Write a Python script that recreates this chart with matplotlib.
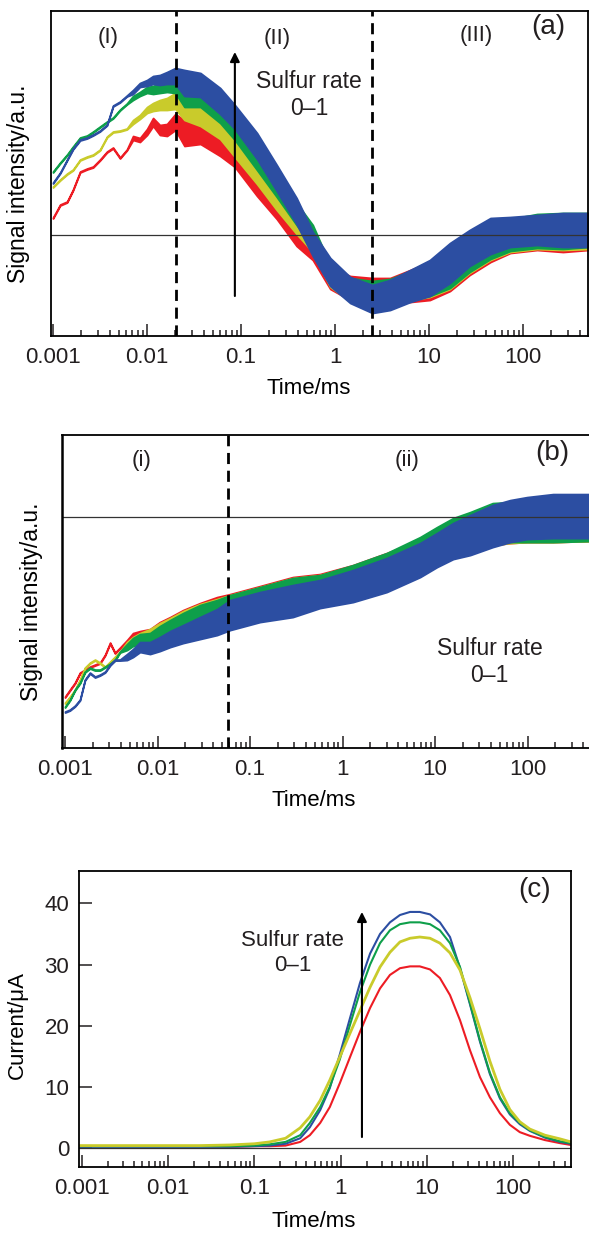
import numpy as np
import matplotlib
matplotlib.use('Agg')
import matplotlib.pyplot as plt
from matplotlib.ticker import FixedLocator, LogLocator, NullFormatter

plt.rcParams['font.family'] = ['Liberation Sans', 'DejaVu Sans']
plt.rcParams['font.size'] = 16
plt.rcParams['text.color'] = '#231f20'
plt.rcParams['xtick.color'] = '#231f20'
plt.rcParams['ytick.color'] = '#231f20'

# series colours (sulfur rate 0 -> 1)
c_red, c_yel, c_grn, c_blu = '#ED1C24', '#C9CB2B', '#0E9F4A', '#2C4EA2'

# ---------------- (a) signal, arbitrary units (0 = reference line) ----------------
time_a = [0.001, 0.00119, 0.00141, 0.00163, 0.00194, 0.0023, 0.00267, 0.00316, 0.00375, 0.00435,
          0.00516, 0.0061, 0.0071, 0.0084, 0.010, 0.0116, 0.0137, 0.0163, 0.020,
          0.025, 0.037, 0.060, 0.086, 0.148, 0.24, 0.39, 0.58, 0.89, 1.45, 2.5, 3.85, 6.3,
          10.2, 16.7, 27, 45, 73, 141, 266, 490]
red_a = [17, 30, 33, 45, 63, 66, 68, 75, 83, 87, 77, 85, 97, 95, 103, 113, 105, 105, 113,
         102, 103, 92, 79, 52, 28, 2, -13, -43, -53, -55, -55, -51, -46, -34, -20, -7, -1, 2, 2, 3]
yel_a = [48, 55, 61, 65, 75, 78, 80, 85, 98, 103, 104, 106, 113, 118, 125, 128, 130, 131, 134,
         125, 121, 108, 90, 63, 37, 13, -6, -42, -55, -59, -58, -51, -45, -33, -18, -6, -1, 3, 3, 3]
grn_a = [63, 72, 80, 88, 97, 99, 103, 108, 113, 117, 125, 131, 137, 141, 145, 145, 147, 149, 150,
         140, 140, 125, 107, 77, 50, 21, -1, -40, -54, -58, -57, -50, -44, -32, -17, -5, 0, 4, 4, 5]
blu_a = [52, 62, 75, 86, 95, 97, 100, 104, 110, 129, 133, 139, 143, 150, 152, 155, 155, 157, 159,
         152, 150, 134, 118, 89, 57, 24, -9, -37, -55, -64, -60, -51, -43, -28, -13, -1, 3, 5, 5, 5]
# half-width of the noisy trace
red_a_sp = [0.5] * 12 + [2, 2, 3, 4, 5, 6, 8] + [13, 12, 13, 11, 13, 12, 13, 12, 11, 12, 12, 12, 16, 19, 22, 20, 20, 17, 17, 19, 18]
yel_a_sp = [0.5] * 12 + [2, 2, 3, 4, 5, 6, 8] + [10, 12, 12, 12, 12, 12, 12, 11, 10, 11, 12, 13, 14, 17, 21, 20, 19, 16, 17, 18, 17]
grn_a_sp = [0.5] * 12 + [2, 2, 3, 4, 5, 6, 8] + [12, 12, 13, 12, 12, 12, 11, 11, 10, 11, 12, 13, 14, 17, 21, 20, 19, 16, 17, 18, 17]
blu_a_sp = [0.5] * 12 + [2, 2, 3, 4, 5, 6, 8] + [13, 12, 13, 12, 13, 13, 13, 12, 14, 13, 14, 15, 16, 18, 20, 18, 18, 15, 15, 17, 17]

# ---------------- (b) signal ----------------
time_b = [0.001, 0.00113, 0.00128, 0.00145, 0.00164, 0.00186, 0.00211, 0.00239, 0.00271, 0.00307,
          0.00347, 0.00393, 0.00468, 0.00543, 0.00647, 0.0083, 0.0106, 0.0137, 0.0189, 0.0288, 0.044,
          0.061, 0.128, 0.29, 0.57, 1.3, 3.0, 6.9, 10.5, 15.7, 24, 42, 65, 99, 189, 462]
red_b = [-180, -173, -166, -156, -153, -150, -148, -146, -138, -126, -136, -131, -126, -120, -119, -118, -112, -108, -102, -97, -93,
         -93, -85, -77, -72, -64, -53, -39, -30, -22, -16, -9, -6, -5, -4, -3]
yel_b = [-186, -180, -173, -163, -151, -146, -143, -146, -150, -145, -140, -135, -128, -124, -121, -118, -113, -109, -103, -98, -95,
         -94, -86, -78, -73, -65, -54, -39, -30, -21, -16, -9, -6, -5, -4, -3]
grn_b = [-190, -183, -173, -166, -155, -151, -153, -153, -150, -147, -143, -135, -130, -125, -122, -122, -116, -111, -105, -99, -96,
         -94, -86, -78, -73, -64, -53, -37, -27, -18, -13, -6, -5, -4, -3, -2]
blu_b = [-195, -193, -189, -183, -163, -156, -160, -158, -155, -148, -143, -143, -140, -136, -130, -131, -127, -122, -117, -111, -105,
         -98, -90, -84, -77, -69, -58, -43, -33, -24, -18, -9, -4, -1, 1, 1]
early_b_sp = [0.5] * 12 + [3, 4, 5, 6, 7, 8, 9, 11, 13]
red_b_sp = early_b_sp + [16, 16, 17, 15, 16, 17, 16, 16, 16, 17, 19, 20, 20, 21, 21]
yel_b_sp = early_b_sp + [16, 16, 17, 15, 16, 17, 16, 16, 16, 17, 19, 20, 20, 21, 21]
grn_b_sp = early_b_sp + [16, 16, 17, 15, 16, 17, 17, 17, 17, 18, 20, 20, 21, 22, 22]
blu_b_sp = early_b_sp + [15, 15, 16, 14, 16, 17, 17, 17, 18, 20, 21, 21, 21, 22, 22]

# ---------------- (c) current, uA ----------------
time_c = [0.00093, 0.0062, 0.023, 0.052, 0.1, 0.15, 0.23, 0.34, 0.44, 0.58, 0.75, 0.98, 1.29, 1.68,
          2.2, 2.87, 3.74, 4.89, 6.4, 8.3, 10.9, 14.2, 18.6, 24.3, 31.7, 41.4, 54, 70.6, 92, 120,
          157, 235, 351, 471]
red_c = [0.3, 0.3, 0.3, 0.2, 0.3, 0.3, 0.4, 1.0, 2.1, 4.1, 6.7, 10.6, 14.9, 19.0, 22.9, 26.1, 28.3,
         29.4, 29.7, 29.7, 29.2, 27.8, 25.0, 20.9, 16.0, 11.6, 8.3, 5.7, 3.8, 2.6, 2.0, 1.3, 0.8, 0.5]
yel_c = [0.4, 0.4, 0.4, 0.5, 0.7, 1.0, 1.6, 3.3, 5.1, 7.8, 11.1, 14.9, 18.8, 22.5, 26.3, 29.6, 32.0,
         33.7, 34.3, 34.5, 34.3, 33.5, 31.9, 29.1, 24.6, 19.5, 14.2, 9.6, 6.3, 4.3, 3.1, 2.1, 1.5, 1.0]
grn_c = [0.3, 0.3, 0.3, 0.3, 0.4, 0.6, 1.0, 2.1, 4.1, 6.7, 10.0, 14.5, 20.2, 25.5, 30.0, 33.5, 35.6,
         36.6, 36.9, 36.9, 36.6, 35.6, 33.5, 29.6, 23.7, 17.6, 12.3, 8.3, 5.7, 4.1, 2.9, 1.8, 1.1, 0.8]
blu_c = [0.2, 0.2, 0.2, 0.2, 0.3, 0.4, 0.7, 1.6, 3.4, 6.2, 9.8, 15.3, 21.3, 27.0, 31.8, 35.0, 36.9,
         38.1, 38.6, 38.6, 38.2, 36.9, 34.5, 29.4, 23.5, 17.4, 12.1, 8.1, 5.5, 3.9, 2.8, 1.7, 1.0, 0.7]

major_t = [0.001, 0.01, 0.1, 1, 10, 100]
major_lbl = ['0.001', '0.01', '0.1', '1', '10', '100']


def noisy_trace(ax, t, mid, sp, color):
    # band between the lower and upper envelope of the noisy trace, outlined so thin parts read as a line
    mid = np.array(mid, dtype=float)
    sp = np.array(sp, dtype=float)
    ax.fill_between(t, mid - sp, mid + sp, facecolor=color, edgecolor=color, lw=1.3)


def log_time_axis(ax, xlim):
    ax.set_xscale('log')
    ax.set_xlim(*xlim)
    ax.xaxis.set_major_locator(FixedLocator(major_t))
    ax.set_xticklabels(major_lbl)
    ax.xaxis.set_minor_locator(LogLocator(base=10, subs=np.arange(2, 10)))
    ax.xaxis.set_minor_formatter(NullFormatter())
    ax.tick_params(axis='x', which='major', direction='in', length=9, width=1.1, pad=8, labelsize=16)
    ax.tick_params(axis='x', which='minor', direction='in', length=4, width=1.1)
    for s in ax.spines.values():
        s.set_linewidth(1.3)


fig = plt.figure(figsize=(5.89, 12.34), dpi=100)

# ======== (a) ========
ax1 = fig.add_axes([0.0866, 0.7277, 0.9117, 0.2634])
log_time_axis(ax1, (0.000952, 491))
ax1.set_ylim(-101, 224)
ax1.tick_params(axis='y', left=False, labelleft=False)
noisy_trace(ax1, time_a, red_a, red_a_sp, c_red)
noisy_trace(ax1, time_a, yel_a, yel_a_sp, c_yel)
noisy_trace(ax1, time_a, grn_a, grn_a_sp, c_grn)
noisy_trace(ax1, time_a, blu_a, blu_a_sp, c_blu)
ax1.axhline(0, color='#333333', lw=0.9)
ax1.axvline(0.0204, color='k', lw=2, ls=(0, (4, 2.4)))
ax1.axvline(2.48, color='k', lw=2, ls=(0, (4, 2.4)))
ax1.annotate('', xy=(0.086, 183), xytext=(0.086, -61),
             arrowprops=dict(arrowstyle='-|>', color='k', lw=1.5, mutation_scale=14, shrinkA=0, shrinkB=0))
ax1.text(0.0039, 197, '(I)', ha='center', va='center')
ax1.text(0.24, 196, '(II)', ha='center', va='center')
ax1.text(32, 199, '(III)', ha='center', va='center')
ax1.text(186, 208, '(a)', ha='center', va='center', fontsize=20)
ax1.text(0.53, 140, 'Sulfur rate\n0\u20131', ha='center', va='center', fontsize=16.5, linespacing=1.25)
ax1.set_xlabel('Time/ms', fontsize=16)
ax1.xaxis.set_label_coords(0.48, -0.13)
ax1.set_ylabel('Signal intensity/a.u.', fontsize=16.5)
ax1.yaxis.set_label_coords(-0.039, 0.47)

# ======== (b) ========
ax2 = fig.add_axes([0.1053, 0.3938, 0.9134, 0.2536])
log_time_axis(ax2, (0.000928, 608))
ax2.set_ylim(-231, 82)
ax2.tick_params(axis='y', left=False, labelleft=False)
ax2.spines['left'].set_linewidth(1.8)
noisy_trace(ax2, time_b, red_b, red_b_sp, c_red)
noisy_trace(ax2, time_b, yel_b, yel_b_sp, c_yel)
noisy_trace(ax2, time_b, grn_b, grn_b_sp, c_grn)
noisy_trace(ax2, time_b, blu_b, blu_b_sp, c_blu)
ax2.axhline(0, color='#333333', lw=0.9)
ax2.axvline(0.0578, color='k', lw=2, ls=(0, (4, 2.4)))
ax2.text(0.0068, 57, '(i)', ha='center', va='center')
ax2.text(5.0, 57, '(ii)', ha='center', va='center')
ax2.text(184, 64, '(b)', ha='center', va='center', fontsize=20)
ax2.text(39, -145, 'Sulfur rate\n0\u20131', ha='center', va='center', fontsize=16.5, linespacing=1.25)
ax2.set_xlabel('Time/ms', fontsize=16)
ax2.xaxis.set_label_coords(0.467, -0.134)
ax2.set_ylabel('Signal intensity/a.u.', fontsize=16.5)
ax2.yaxis.set_label_coords(-0.035, 0.466)

# ======== (c) ========
ax3 = fig.add_axes([0.1341, 0.0543, 0.8353, 0.2399])
log_time_axis(ax3, (0.000923, 471))
ax3.set_ylim(-3.1, 45.3)
ax3.set_yticks([0, 10, 20, 30, 40])
ax3.tick_params(axis='y', direction='in', length=9, width=1.1, pad=7, labelsize=16)
ax3.axhline(0, color='#333333', lw=0.9)
ax3.plot(time_c, red_c, color=c_red, lw=1.5)
ax3.plot(time_c, blu_c, color=c_blu, lw=1.5)
ax3.plot(time_c, grn_c, color=c_grn, lw=1.5)
ax3.plot(time_c, yel_c, color=c_yel, lw=2.0)
ax3.annotate('', xy=(1.77, 38.6), xytext=(1.77, 1.8),
             arrowprops=dict(arrowstyle='-|>', color='k', lw=1.5, mutation_scale=14, shrinkA=0, shrinkB=0))
ax3.text(0.28, 31.9, 'Sulfur rate\n0\u20131', ha='center', va='center', fontsize=16, linespacing=1.25)
ax3.text(180, 42.2, '(c)', ha='center', va='center', fontsize=20)
ax3.set_xlabel('Time/ms', fontsize=16)
ax3.xaxis.set_label_coords(0.478, -0.149)
ax3.set_ylabel('Current/\u03bcA', fontsize=16)
ax3.yaxis.set_label_coords(-0.104, 0.48)

fig.savefig('out.png', dpi=100)
